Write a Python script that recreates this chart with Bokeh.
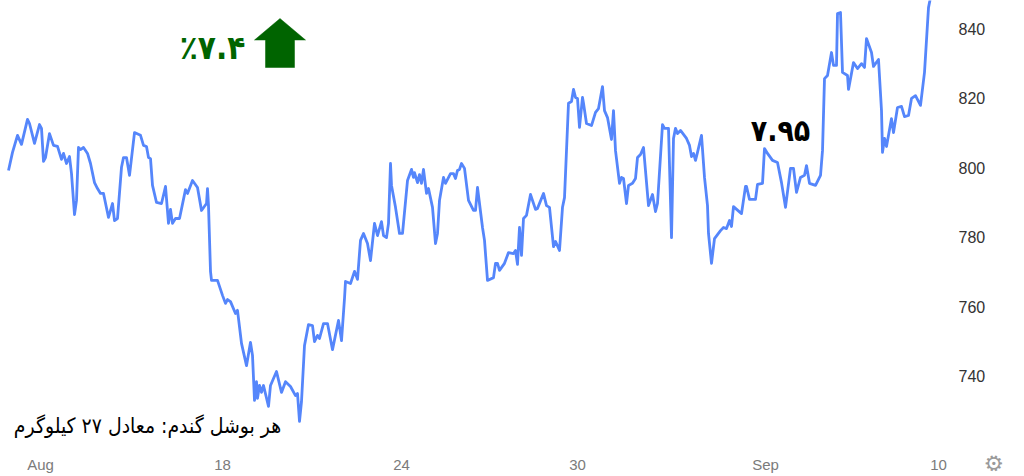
from bokeh.embed import file_html
from bokeh.models import FixedTicker, Label, PolyAnnotation, Range1d, Title
from bokeh.plotting import figure
from bokeh.resources import INLINE

sessions = [
    8,12,17,21,27,29,34,39,41,43,
    45,49,53,57,61,63,66,69,71,74,
    76,78,80,83,87,90,94,97,100,103,
    108,112,114,117,121,123,126,129,134,140,
    143,146,148,150,152,156,161,165,168,170,
    172,175,179,185,187,192,197,201,206,207,
    208,209,210,211,217,222,225,227,230,235,
    237,241,246,250,252,254,256,257,259,261,
    263,268,270,276,281,285,290,295,297,299,
    301,304,308,312,314,317,319,323,327,332,
    338,341,344,345,350,354,357,360,363,367,
    370,374,377,381,383,386,388,390,391,395,
    399,402,407,411,413,414,417,419,421,423,
    426,428,432,435,437,439,443,445,450,453,
    455,457,459,461,464,468,473,475,477,479,
    482,484,487,493,495,497,499,504,508,513,
    515,517,519,521,523,526,530,535,537,543,
    546,549,553,555,559,562,564,568,571,573,
    575,577,579,582,583,586,591,595,598,602,
    604,607,611,613,615,619,621,623,626,628,
    632,635,637,640,643,648,652,655,657,662,
    664,668,671,673,675,677,680,686,689,691,
    693,695,697,701,704,707,708,711,714,720,
    723,726,729,731,733,741,745,746,749,755,
    757,762,764,767,772,777,781,785,790,793,
    796,800,804,806,809,815,820,822,824,827,
    831,833,836,837,840,842,847,848,853,857,
    861,864,866,871,873,878,881,882,884,886,
    891,893,897,901,904,908,911,915,920,924,
    928,930,
]
prices = [
    799.2,804.4,809.3,806.7,813.9,812.7,807.0,812.4,811.3,801.8,
    802.9,809.8,806.4,806.1,802.4,804.1,801.2,803.2,798.3,786.5,
    790.6,805.8,805.2,805.8,804.1,801.2,795.7,794.0,792.6,792.6,
    785.7,789.7,784.8,785.4,800.1,802.9,802.9,797.8,810.1,809.3,
    806.4,806.1,802.9,802.6,794.9,790.0,789.7,794.6,784.0,788.0,
    784.0,785.4,785.4,793.7,792.6,796.3,794.3,787.7,789.7,794.0,
    789.1,779.6,770.2,767.6,767.6,763.3,761.0,762.1,761.5,758.1,
    759.0,749.5,743.1,749.8,746.0,733.1,738.5,733.7,737.4,735.4,
    737.4,731.4,737.4,741.4,735.4,738.5,737.1,734.5,735.1,727.1,
    732.8,748.9,754.9,754.6,750.0,751.8,750.9,755.2,755.2,747.7,
    756.1,750.3,762.4,767.3,766.7,770.2,767.9,779.1,781.1,778.2,
    773.3,784.0,780.5,784.5,780.5,779.9,784.0,801.2,794.9,788.6,
    781.1,781.1,796.3,799.5,797.2,798.6,795.7,798.0,795.5,799.5,
    792.6,794.0,788.6,778.2,781.1,790.6,797.2,795.5,798.3,798.3,
    796.9,799.2,799.5,801.2,799.8,790.6,787.7,787.7,794.3,789.7,
    782.8,779.1,767.6,768.4,772.5,772.5,770.5,772.5,775.6,775.3,
    776.2,772.2,782.8,774.8,785.4,786.3,792.3,788.0,788.3,792.6,
    789.1,788.6,777.3,778.8,776.2,788.6,791.4,818.5,819.0,822.5,
    820.2,819.9,811.6,820.2,818.5,812.7,812.1,815.9,817.0,823.3,
    816.4,814.4,808.1,816.4,804.9,795.5,797.2,796.9,789.7,794.9,
    795.5,796.9,802.9,803.8,805.8,789.1,792.3,787.4,789.7,812.4,
    811.3,811.3,779.9,808.4,811.3,809.8,810.7,808.4,806.4,803.2,
    804.1,802.1,804.4,809.3,797.2,789.1,781.1,772.5,779.6,781.9,
    782.8,782.5,784.8,783.1,788.8,786.8,794.6,794.6,790.9,790.9,
    795.2,795.5,805.5,804.1,802.1,801.5,795.7,788.6,799.8,799.8,
    792.9,797.2,797.8,800.6,795.5,794.9,797.8,804.9,825.6,826.5,
    833.1,829.4,829.4,844.3,844.6,827.4,826.5,822.5,830.2,828.5,
    829.9,828.8,837.1,833.1,829.1,831.1,816.4,804.4,808.4,806.1,
    814.1,810.1,817.3,817.6,814.7,815.0,819.9,820.7,817.9,827.4,
    846.0,848.9,
]
x_tick_positions = [40, 222, 401, 577, 765, 938]
x_tick_labels = ["Aug", "18", "24", "30", "Sep", "10"]
y_ticks = [740, 760, 780, 800, 820, 840]
change_text = "٪۷.۴"
price_text = "۷.۹۵"
note_text = "هر بوشل گندم: معادل ۲۷ کیلوگرم"

p = figure(width=1024, height=476, output_backend="svg", toolbar_location=None,
           x_range=Range1d(0, 943), y_range=Range1d(719.0, 848.05),
           min_border_left=0, min_border_top=0, min_border_right=81, min_border_bottom=27,
           outline_line_color=None, background_fill_color="white", y_axis_location="right")
p.grid.visible = False

xa = p.xaxis[0]
xa.ticker = FixedTicker(ticks=x_tick_positions)
xa.major_label_overrides = dict(zip(x_tick_positions, x_tick_labels))
xa.axis_line_color = None
xa.major_tick_line_color = None
xa.minor_tick_line_color = None
xa.major_tick_out = 0
xa.major_tick_in = 0
xa.major_label_text_font = "Liberation Sans"
xa.major_label_text_font_size = "15px"
xa.major_label_text_color = "#7b7b7b"
xa.major_label_standoff = 6

ya = p.yaxis[0]
ya.ticker = FixedTicker(ticks=y_ticks)
ya.axis_line_color = None
ya.major_tick_line_color = None
ya.minor_tick_line_color = None
ya.major_tick_out = 0
ya.major_tick_in = 0
ya.major_label_text_font = "Liberation Sans"
ya.major_label_text_font_size = "16px"
ya.major_label_text_color = "#333333"
ya.major_label_standoff = 15

p.line(sessions, prices, line_color="#5586fb", line_width=2.8, line_join="round")

# arrow (canvas pixels)
p.add_layout(PolyAnnotation(xs=[279.5, 254, 265, 265, 294, 294, 305],
                            ys=[18, 39.5, 39.5, 67, 67, 39.5, 39.5],
                            xs_units="canvas", ys_units="canvas",
                            fill_color="#006400", fill_alpha=1, line_color="#006400",
                            line_alpha=1, line_width=0.5, level="overlay"))

def label(x, y, text, size, color, style, font="DejaVu Sans Condensed"):
    p.add_layout(Label(x=x, y=y, x_units="canvas", y_units="canvas", text=text,
                       text_font=font, text_font_size=size, text_color=color,
                       text_font_style=style, text_align="center", text_baseline="middle"))

label(212, 47, change_text, "33px", "#006400", "bold")
label(780, 130, price_text, "30px", "#000000", "bold")
label(147, 425, note_text, "21px", "#000000", "normal")

p.add_layout(Title(text="⚙", align="left", offset=453, standoff=-16, text_font="DejaVu Sans",
                   text_font_size="22px", text_font_style="normal", text_color="#9a9a9a"), "right")

open("out.html", "w").write(file_html(p, INLINE))
